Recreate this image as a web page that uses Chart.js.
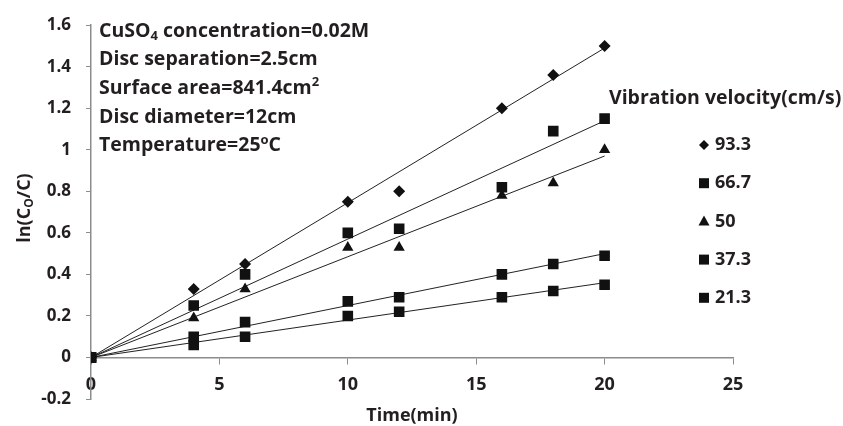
<!DOCTYPE html>
<html>
<head>
<meta charset="utf-8">
<script src="https://cdn.jsdelivr.net/npm/chart.js@4"></script>
<style>
  html, body { margin: 0; padding: 0; background: #fff; }
  #chart { display: block; }
</style>
</head>
<body>
<canvas id="chart" width="843" height="426"></canvas>
<script>
// data
const times = [0, 4, 6, 10, 12, 16, 18, 20];
const velocities = ['93.3', '66.7', '50', '37.3', '21.3'];
const v93 = [0, 0.33, 0.45, 0.75, 0.80, 1.20, 1.36, 1.50];
const v67 = [0, 0.25, 0.40, 0.60, 0.62, 0.82, 1.09, 1.15];
const v50 = [0, 0.19, 0.33, 0.53, 0.53, 0.78, 0.84, 1.00];
const v37 = [0, 0.10, 0.17, 0.27, 0.29, 0.40, 0.45, 0.49];
const v21 = [0, 0.06, 0.10, 0.20, 0.22, 0.29, 0.32, 0.35];
// linear trend lines through origin, value at t=20
const trendEnd = [1.49, 1.14, 0.97, 0.50, 0.36];
const markers = ['rectRot', 'rect', 'triangle', 'rect', 'rect'];

const xTicks = [0, 5, 10, 15, 20, 25];
const yTicks = [-0.2, 0, 0.2, 0.4, 0.6, 0.8, 1, 1.2, 1.4, 1.6];

const notes = [
  [{t: 'CuSO'}, {t: '4', sub: true}, {t: ' concentration=0.02M'}],
  [{t: 'Disc separation=2.5cm'}],
  [{t: 'Surface area=841.4cm'}, {t: '2', sup: true}],
  [{t: 'Disc diameter=12cm'}],
  [{t: 'Temperature=25'}, {t: 'o', sup: true}, {t: 'C'}]
];

const FONT = '"Open Sans", Lato, sans-serif';
const INK = '#231f20';
const AXIS = '#8c8c8c';

const series = [v93, v67, v50, v37, v21];
const datasets = [];
series.forEach((vals, i) => {
  datasets.push({
    label: velocities[i],
    data: times.map((t, j) => ({x: t, y: vals[j]})),
    showLine: false,
    pointStyle: markers[i],
    pointRadius: markers[i] === 'rect' ? 7.5 : (markers[i] === 'triangle' ? 6.5 : 6),
    backgroundColor: '#111',
    borderColor: '#111',
    borderWidth: 0,
    order: 1
  });
  datasets.push({
    label: 'trend ' + velocities[i],
    data: [{x: 0, y: 0}, {x: 20, y: trendEnd[i]}],
    showLine: true,
    borderColor: '#222',
    borderWidth: 1,
    pointRadius: 0,
    fill: false,
    order: 2
  });
});

function richText(ctx, runs, x, y, size) {
  let cx = x;
  runs.forEach(r => {
    const s = (r.sub || r.sup) ? Math.round(size * 0.65) : size;
    ctx.font = 'bold ' + s + 'px ' + FONT;
    let dy = 0;
    if (r.sub) dy = size * 0.28;
    if (r.sup) dy = -size * 0.3;
    ctx.fillText(r.t, cx, y + dy);
    cx += ctx.measureText(r.t).width;
  });
  return cx - x;
}

function measureRich(ctx, runs, size) {
  let w = 0;
  runs.forEach(r => {
    const s = (r.sub || r.sup) ? Math.round(size * 0.65) : size;
    ctx.font = 'bold ' + s + 'px ' + FONT;
    w += ctx.measureText(r.t).width;
  });
  return w;
}

function marker(ctx, style, x, y) {
  ctx.beginPath();
  if (style === 'rectRot') {
    ctx.moveTo(x - 5, y); ctx.lineTo(x, y - 5); ctx.lineTo(x + 5, y); ctx.lineTo(x, y + 5);
  } else if (style === 'triangle') {
    ctx.moveTo(x, y - 6); ctx.lineTo(x + 5.5, y + 4); ctx.lineTo(x - 5.5, y + 4);
  } else {
    ctx.rect(x - 5, y - 5, 10, 10);
  }
  ctx.closePath();
  ctx.fill();
}

const extras = {
  id: 'extras',
  afterDraw(chart) {
    const ctx = chart.ctx;
    ctx.save();
    ctx.fillStyle = INK;
    ctx.textBaseline = 'middle';
    ctx.textAlign = 'left';

    // conditions box
    notes.forEach((runs, i) => richText(ctx, runs, 99, 31 + i * 28.7, 19.5));

    // legend
    ctx.font = 'bold 19.5px ' + FONT;
    ctx.fillText('Vibration velocity(cm/s)', 609, 98);
    velocities.forEach((v, i) => {
      const y = 145 + i * 38.2;
      ctx.fillStyle = '#111';
      marker(ctx, markers[i], 704, y);
      ctx.fillStyle = INK;
      ctx.font = 'bold 18px ' + FONT;
      ctx.fillText(v, 715, y);
    });

    // axis titles
    ctx.textAlign = 'center';
    ctx.font = 'bold 18px ' + FONT;
    ctx.fillText('Time(min)', 412, 416);

    const yTitle = [{t: 'ln(C'}, {t: 'O', sub: true}, {t: '/C)'}];
    ctx.translate(25, 208);
    ctx.rotate(-Math.PI / 2);
    ctx.textAlign = 'left';
    const w = measureRich(ctx, yTitle, 18);
    richText(ctx, yTitle, -w / 2, 0, 18);
    ctx.restore();
  }
};

new Chart(document.getElementById('chart'), {
  type: 'scatter',
  data: {datasets},
  options: {
    responsive: false,
    animation: false,
    layout: {padding: {left: 0, top: 20, right: 110, bottom: 27}},
    plugins: {legend: {display: false}, tooltip: {enabled: false}},
    scales: {
      x: {
        type: 'linear',
        min: 0,
        max: 25,
        position: {y: 0},
        afterBuildTicks: s => { s.ticks = xTicks.map(v => ({value: v})); },
        grid: {drawOnChartArea: false, drawTicks: true, tickLength: 6, color: AXIS},
        border: {display: true, color: AXIS, width: 1.5},
        ticks: {color: INK, padding: 11, font: {family: FONT, size: 18, weight: 'bold'}, maxRotation: 0}
      },
      y: {
        type: 'linear',
        min: -0.2,
        max: 1.6,
        afterBuildTicks: s => { s.ticks = yTicks.map(v => ({value: v})); },
        afterFit: s => { s.width = 91; },
        grid: {drawOnChartArea: false, drawTicks: true, tickLength: 5, color: AXIS},
        border: {display: true, color: AXIS, width: 1.5},
        ticks: {color: INK, padding: 15, font: {family: FONT, size: 17, weight: 'bold'},
          callback: v => String(Math.round(v * 10) / 10)}
      }
    }
  },
  plugins: [extras]
});
</script>
</body>
</html>
